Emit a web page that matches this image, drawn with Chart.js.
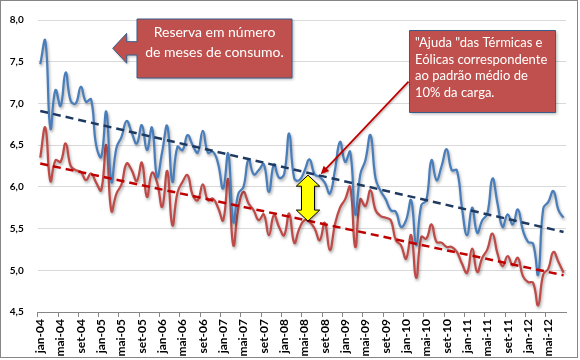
<!DOCTYPE html>
<html lang="pt-BR">
<head>
<meta charset="utf-8">
<script src="https://cdn.jsdelivr.net/npm/chart.js@4.4.1/dist/chart.umd.min.js"></script>
<style>
  html, body { margin: 0; padding: 0; background: #fff; }
  canvas { display: block; }
</style>
</head>
<body>
<canvas id="grafico" width="580" height="360"></canvas>
<script>
// rótulos mensais jan-04 .. ago-12
const meses = ['jan', 'fev', 'mar', 'abr', 'mai', 'jun', 'jul', 'ago', 'set', 'out', 'nov', 'dez'];
const anos = ['04', '05', '06', '07', '08', '09', '10', '11', '12'];
const ultimoMes = 'ago-12';

const rotulos = [];
anos.forEach(function (a) {
    meses.forEach(function (m) { rotulos.push(m + '-' + a); });
});
rotulos.length = rotulos.indexOf(ultimoMes) + 1;

// reserva em meses de consumo (azul) e reserva com "ajuda" descontada (vermelho)
const reserva = [
    7.47, 7.75, 6.70, 7.16, 6.97, 7.37, 7.03, 7.00, 7.20, 7.02, 7.05, 6.50,
    6.36, 6.90, 6.06, 6.47, 6.60, 6.79, 6.65, 6.52, 6.74, 6.44, 6.71, 6.12,
    6.42, 6.73, 6.06, 6.48, 6.44, 6.62, 6.50, 6.41, 6.67, 6.41, 6.42, 6.28,
    5.98, 6.40, 5.58, 5.92, 6.00, 6.33, 6.15, 6.20, 6.27, 5.94, 6.27, 6.11,
    6.15, 6.64, 6.10, 6.08, 6.19, 6.33, 6.15, 6.12, 6.05, 5.92, 6.20, 6.54,
    6.30, 6.42, 5.67, 6.15, 6.32, 6.62, 6.10, 5.95, 5.85, 5.72, 5.70, 5.52,
    5.60, 5.84, 5.30, 5.78, 5.84, 6.32, 6.08, 6.25, 6.45, 6.20, 6.20, 5.75,
    5.42, 5.75, 5.45, 5.60, 5.68, 6.10, 5.80, 5.52, 5.67, 5.55, 5.73, 5.48,
    5.34, 5.32, 4.95, 5.74, 5.82, 5.95, 5.72, 5.63
];
const reservaSemAjuda = [
    6.35, 6.71, 6.07, 6.32, 6.30, 6.52, 6.25, 6.20, 6.18, 6.08, 6.16, 6.05,
    5.96, 6.50, 5.71, 5.92, 6.03, 6.28, 6.20, 6.07, 6.29, 5.88, 6.17, 6.05,
    5.76, 6.19, 5.54, 5.93, 6.06, 6.14, 5.90, 5.84, 6.03, 5.84, 5.86, 5.75,
    5.60, 6.09, 5.30, 5.75, 5.94, 5.80, 5.72, 5.60, 5.67, 5.42, 5.66, 5.52,
    5.42, 5.68, 5.33, 5.50, 5.60, 5.58, 5.50, 5.36, 5.57, 5.24, 5.55, 5.75,
    5.85, 6.00, 5.28, 5.85, 5.77, 5.96, 5.72, 5.65, 5.63, 5.60, 5.36, 5.30,
    5.14, 5.42, 4.91, 5.40, 5.38, 5.55, 5.34, 5.33, 5.28, 5.28, 5.22, 5.08,
    4.97, 5.26, 4.98, 5.15, 5.25, 5.44, 5.20, 5.05, 5.17, 5.06, 5.15, 4.93,
    4.86, 4.85, 4.58, 4.95, 5.02, 5.22, 5.10, 4.97
];

// linhas de tendência (início e fim)
const tendenciaAzul = [6.91, 5.46];
const tendenciaVermelha = [6.28, 4.94];

const eixoY = { min: 4.5, max: 8.0, passo: 0.5 };

function pontasTendencia(valores) {
    return [
        { x: rotulos[0], y: valores[0] },
        { x: rotulos[rotulos.length - 1], y: valores[1] }
    ];
}

// sombra só nas duas séries principais
const sombraLinhas = {
    id: 'sombraLinhas',
    beforeDatasetDraw(chart, args) {
        if (!chart.data.datasets[args.index].sombra) return;
        const ctx = chart.ctx;
        ctx.save();
        ctx.shadowColor = 'rgba(0, 0, 0, 0.35)';
        ctx.shadowBlur = 3;
        ctx.shadowOffsetX = 1;
        ctx.shadowOffsetY = 2;
    },
    afterDatasetDraw(chart, args) {
        if (chart.data.datasets[args.index].sombra) chart.ctx.restore();
    }
};

const anotacoes = {
    id: 'anotacoes',
    afterDraw(chart) {
        const ctx = chart.ctx;
        const sx = chart.scales.x;
        const sy = chart.scales.y;

        // seta dupla amarela
        const cx = sx.getPixelForValue(52.7);
        const topo = sy.getPixelForValue(6.14);
        const base = sy.getPixelForValue(5.59);
        const cab = 11, larg = 11.7, haste = 6.5;
        ctx.save();
        ctx.shadowColor = 'rgba(0, 0, 0, 0.35)';
        ctx.shadowBlur = 3;
        ctx.shadowOffsetX = 1.5;
        ctx.shadowOffsetY = 1.5;
        ctx.beginPath();
        ctx.moveTo(cx, topo);
        ctx.lineTo(cx + larg, topo + cab);
        ctx.lineTo(cx + haste, topo + cab);
        ctx.lineTo(cx + haste, base - cab);
        ctx.lineTo(cx + larg, base - cab);
        ctx.lineTo(cx, base);
        ctx.lineTo(cx - larg, base - cab);
        ctx.lineTo(cx - haste, base - cab);
        ctx.lineTo(cx - haste, topo + cab);
        ctx.lineTo(cx - larg, topo + cab);
        ctx.closePath();
        ctx.fillStyle = '#FFFF00';
        ctx.fill();
        ctx.shadowColor = 'transparent';
        ctx.lineWidth = 1;
        ctx.strokeStyle = '#000000';
        ctx.stroke();
        ctx.restore();

        // caixa 1 com seta para a esquerda
        ctx.save();
        ctx.shadowColor = 'rgba(0, 0, 0, 0.3)';
        ctx.shadowBlur = 3;
        ctx.shadowOffsetX = 1.5;
        ctx.shadowOffsetY = 1.5;
        ctx.beginPath();
        ctx.moveTo(137, 19);
        ctx.lineTo(292, 19);
        ctx.lineTo(292, 78);
        ctx.lineTo(137, 78);
        ctx.lineTo(137, 55);
        ctx.lineTo(126.7, 55);
        ctx.lineTo(126.7, 63.3);
        ctx.lineTo(112.7, 48.3);
        ctx.lineTo(126.7, 33.3);
        ctx.lineTo(126.7, 41.7);
        ctx.lineTo(137, 41.7);
        ctx.closePath();
        ctx.fillStyle = '#C0504D';
        ctx.fill();
        ctx.shadowColor = 'transparent';
        ctx.strokeStyle = '#385D8A';
        ctx.lineWidth = 1;
        ctx.stroke();

        // caixa 2
        ctx.shadowColor = 'rgba(0, 0, 0, 0.3)';
        ctx.beginPath();
        ctx.rect(409.5, 30.5, 146, 82);
        ctx.fill();
        ctx.shadowColor = 'transparent';
        ctx.stroke();
        ctx.restore();

        // textos
        ctx.save();
        ctx.fillStyle = '#FFFFFF';
        ctx.textBaseline = 'middle';
        ctx.font = '14px Lato';
        ctx.textAlign = 'center';
        ctx.fillText('Reserva em número', 214.5, 32);
        ctx.fillText('de meses de consumo.', 214.5, 52);
        ctx.font = '13px Lato';
        ctx.textAlign = 'left';
        ctx.fillText('"Ajuda "das Térmicas e', 415, 43);
        ctx.fillText('Eólicas correspondente', 415, 59.5);
        ctx.fillText('ao padrão médio de', 415, 76);
        ctx.fillText('10% da carga.', 415, 92.5);
        ctx.restore();

        // seta vermelha apontando para a série azul
        const x0 = 408.5, y0 = 81.7;
        const x1 = sx.getPixelForValue(55.2);
        const y1 = sy.getPixelForValue(6.15);
        const ang = Math.atan2(y1 - y0, x1 - x0);
        const lc = 9, ac = 0.42;
        ctx.save();
        ctx.shadowColor = 'rgba(0, 0, 0, 0.3)';
        ctx.shadowBlur = 2;
        ctx.shadowOffsetX = 1;
        ctx.shadowOffsetY = 1;
        ctx.strokeStyle = '#C00000';
        ctx.fillStyle = '#C00000';
        ctx.lineWidth = 1.75;
        ctx.beginPath();
        ctx.moveTo(x0, y0);
        ctx.lineTo(x1 - Math.cos(ang) * lc * 0.8, y1 - Math.sin(ang) * lc * 0.8);
        ctx.stroke();
        ctx.beginPath();
        ctx.moveTo(x1, y1);
        ctx.lineTo(x1 - lc * Math.cos(ang - ac), y1 - lc * Math.sin(ang - ac));
        ctx.lineTo(x1 - lc * Math.cos(ang + ac), y1 - lc * Math.sin(ang + ac));
        ctx.closePath();
        ctx.fill();
        ctx.restore();

        // moldura do gráfico
        ctx.save();
        ctx.strokeStyle = '#868686';
        ctx.lineWidth = 1;
        ctx.strokeRect(0.5, 0.5, 577, 357);
        ctx.restore();
    }
};

const fonteEixo = { family: 'Lato', weight: 'bold' };

new Chart(document.getElementById('grafico').getContext('2d'), {
    type: 'line',
    data: {
        labels: rotulos,
        datasets: [{
            label: 'Tendência reserva',
            data: pontasTendencia(tendenciaAzul),
            borderColor: '#1F3A60',
            borderWidth: 2.5,
            borderDash: [8, 5],
            pointRadius: 0,
            tension: 0
        }, {
            label: 'Tendência sem ajuda',
            data: pontasTendencia(tendenciaVermelha),
            borderColor: '#C00000',
            borderWidth: 2.5,
            borderDash: [8, 5],
            pointRadius: 0,
            tension: 0
        }, {
            label: 'Reserva',
            data: reserva,
            borderColor: '#4A7EBB',
            borderWidth: 2.25,
            pointRadius: 0,
            tension: 0.45,
            sombra: true
        }, {
            label: 'Reserva sem ajuda',
            data: reservaSemAjuda,
            borderColor: '#BE4B48',
            borderWidth: 2.25,
            pointRadius: 0,
            tension: 0.45,
            sombra: true
        }]
    },
    options: {
        responsive: false,
        animation: false,
        devicePixelRatio: 1,
        layout: {
            padding: { left: 0, right: 9, top: 11, bottom: 0 }
        },
        plugins: {
            legend: { display: false },
            tooltip: { enabled: false }
        },
        scales: {
            x: {
                offset: true,
                grid: {
                    offset: true,
                    drawOnChartArea: false,
                    drawTicks: true,
                    tickLength: 5,
                    tickColor: function (c) {
                        return c.index % 4 === 0 ? '#868686' : 'rgba(0,0,0,0)';
                    }
                },
                border: { display: true, color: '#868686' },
                ticks: {
                    autoSkip: false,
                    maxRotation: 90,
                    minRotation: 90,
                    padding: 2,
                    color: '#000000',
                    font: Object.assign({ size: 12 }, fonteEixo),
                    callback: function (v, i) {
                        return i % 4 === 0 ? rotulos[i] : '';
                    }
                },
                afterFit: function (s) { s.height = 48; }
            },
            y: {
                min: eixoY.min,
                max: eixoY.max,
                grid: { color: '#D9D9D9', drawTicks: false },
                border: { display: false },
                ticks: {
                    stepSize: eixoY.passo,
                    padding: 14,
                    color: '#000000',
                    font: Object.assign({ size: 10 }, fonteEixo),
                    callback: function (v) {
                        return v.toFixed(1).replace('.', ',');
                    }
                },
                afterFit: function (s) { s.width = 37.7; }
            }
        }
    },
    plugins: [sombraLinhas, anotacoes]
});
</script>
</body>
</html>
